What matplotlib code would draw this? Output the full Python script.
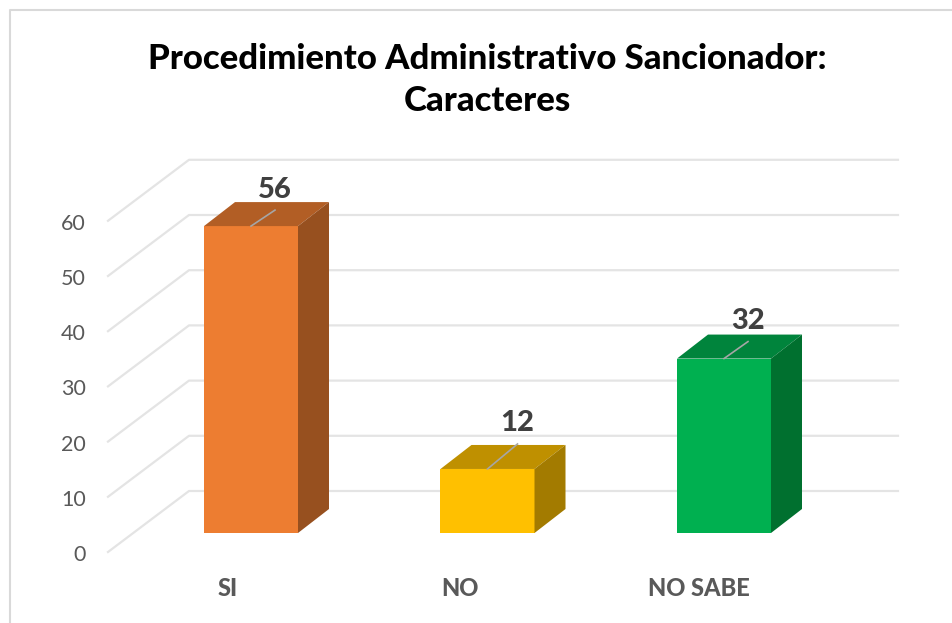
import matplotlib.pyplot as plt
from matplotlib.patches import Polygon, Rectangle

categories = ["SI", "NO", "NO SABE"]
values = [56, 12, 32]
front_colors = ["#ED7D31", "#FFC000", "#00B050"]
top_colors = ["#B25E25", "#BF9000", "#00843C"]
side_colors = ["#97501F", "#A37B00", "#00702F"]
y_ticks = [0, 10, 20, 30, 40, 50, 60]
title = "Procedimiento Administrativo Sancionador:\nCaracteres"

plt.rcParams["font.family"] = ["Lato", "DejaVu Sans"]

fig = plt.figure(figsize=(9.53, 6.23), dpi=100)
ax = fig.add_axes([0, 0, 1, 1])
# y data unit = one chart value, x data unit = 1 bar slot
zero_px = 552
px_per_val = 5.52
x0_px = 108
slot_px = 236.5
ax.set_xlim(-x0_px / slot_px, (953 - x0_px) / slot_px)
ax.set_ylim(-(623 - zero_px) / px_per_val, zero_px / px_per_val)
ax.axis("off")

def px(x, y):
    return (x - x0_px) / slot_px, (zero_px - y) / px_per_val

dx = 81 / slot_px      # depth of floor in x
dy = 61 / px_per_val   # depth of floor in y
grid_end = (898 - x0_px) / slot_px

for v in y_ticks:
    ax.plot([0, dx, grid_end], [v, v + dy, v + dy], color="#E4E4E4", lw=1.6, zorder=1)
    ax.text(-22 / slot_px, v - 3 / px_per_val, str(v), ha="right", va="center", fontsize=15.5, color="#595959")

bar_w = 94 / slot_px
bdx = 31 / slot_px
bdy = 24 / px_per_val
base = 19 / px_per_val
leader_rise = [16, 25, 17]
label_gap = [20, 21, 21]
cat_x = [228, 460, 699]
for i, (name, val) in enumerate(zip(categories, values)):
    left = (204 - x0_px + i * slot_px) / slot_px
    top = val + base - 0.4
    ax.add_patch(Rectangle((left, base), bar_w, top - base, color=front_colors[i], lw=0, zorder=3))
    ax.add_patch(Polygon([(left, top), (left + bar_w, top), (left + bar_w + bdx, top + bdy), (left + bdx, top + bdy)],
                         closed=True, color=top_colors[i], lw=0, zorder=3))
    ax.add_patch(Polygon([(left + bar_w, base), (left + bar_w + bdx, base + bdy), (left + bar_w + bdx, top + bdy), (left + bar_w, top)],
                         closed=True, color=side_colors[i], lw=0, zorder=3))
    mid = left + bar_w / 2
    rise = leader_rise[i] / px_per_val
    ax.plot([mid, mid + 24 / slot_px + (6 / slot_px if i == 1 else 0)], [top, top + rise], color="#A6A6A6", lw=1.2, zorder=4)
    ax.text(mid + 24 / slot_px + (6 / slot_px if i == 1 else 0), top + rise + label_gap[i] / px_per_val, str(val), ha="center", va="center",
            fontsize=21, fontweight=900, color="#404040", zorder=5)
    cx, cy = px(cat_x[i], 589)
    ax.text(cx, cy, name, ha="center", va="center", fontsize=17, fontweight=900, color="#595959")

tx, ty = px(487.5, 80)
ax.text(tx, ty, title, ha="center", va="center", fontsize=25, fontweight=900, color="black", linespacing=1.42)

# chart border, only left and top show
bx0, by0 = px(9.5, 623)
bx1, by1 = px(953, 10)
ax.plot([bx0, bx0, bx1], [by0, by1, by1], color="#D9D9D9", lw=1.5)

fig.savefig("out.png", dpi=100)
